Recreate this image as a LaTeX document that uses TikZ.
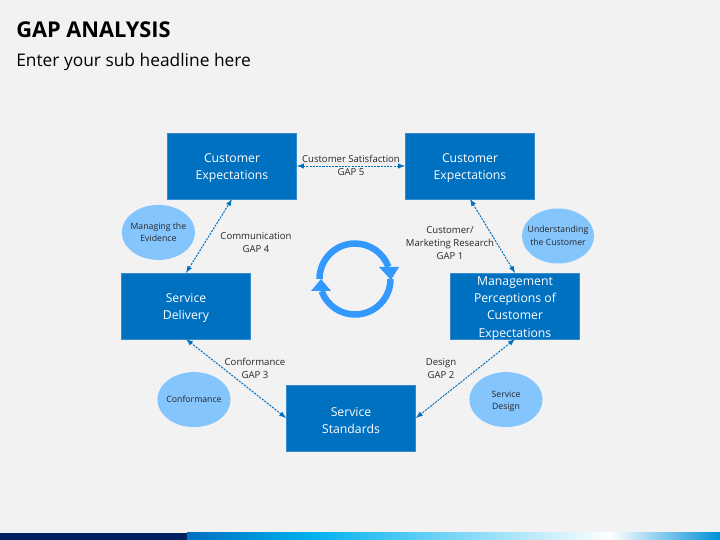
\documentclass[tikz,border=0pt]{standalone}
\usepackage{fontspec}
\setmainfont{Open Sans}
\usetikzlibrary{shapes.geometric}
\usetikzlibrary{arrows}
\definecolor{pagebg}{HTML}{F2F2F2}
\definecolor{boxblue}{HTML}{0070C0}
\definecolor{bubble}{HTML}{85C5FD}
\definecolor{cyclecol}{HTML}{3399FF}
\definecolor{navy}{HTML}{002060}
\definecolor{sky}{HTML}{00B0F0}
\definecolor{bandend}{HTML}{0090D8}
\definecolor{inkgrey}{HTML}{262626}
\newcommand{\pushdown}{\rule{0pt}{9.9pt}}

\begin{document}
\begin{tikzpicture}
	[main/.style = {draw=boxblue!80!white, fill=boxblue, text=white, minimum width=3.23cm, minimum height=1.64cm, inner xsep=0pt, inner ysep=-3pt, align=center, font=\fontsize{8.7}{12.1}\selectfont},
	bubblenode/.style = {ellipse, fill=bubble, inner ysep=0pt, inner xsep=-6pt, minimum width=1.83cm, minimum height=1.375cm, align=center, text=inkgrey, font=\fontsize{6.2}{9}\selectfont},
	gaplabel/.style = {align=center, inner sep=0pt, text=inkgrey, font=\fontsize{6.8}{9.3}\selectfont},
	gapline/.style = {<->, >=latex, dash pattern=on 1.5pt off 0.8pt, line width=0.7pt, draw=boxblue}]
	\useasboundingbox (0,0) rectangle (18,13.5);
	\fill[pagebg] (0,0) rectangle (18,13.5);
	% bottom band
	\fill[navy] (0,0) rectangle (4.675,0.175);
	\fill[left color=boxblue, right color=sky] (4.675,0) rectangle (7.75,0.175);
	\fill[left color=sky, right color=white] (7.75,0) rectangle (15.25,0.175);
	\fill[left color=white, right color=bandend] (15.25,0) rectangle (18,0.175);
	% headline
	\node[anchor=west, inner sep=0pt, text=black, font=\fontsize{15.5}{18}\bfseries\selectfont] (title) at (0.4,12.75) {GAP ANALYSIS};
	\node[anchor=west, inner sep=0pt, text=black, font=\fontsize{12.35}{15}\selectfont] (subtitle) at (0.4,11.96) {Enter your sub headline here};
	% boxes
	\node[main] (custl) at (5.8,9.35) {\pushdown Customer\\Expectations};
	\node[main] (custr) [right of = custl, node distance=5.95cm] {\pushdown Customer\\Expectations};
	\node[main] (delivery) [below of = custl, node distance=3.5cm, xshift=-1.15cm] {\pushdown Service\\Delivery};
	\node[main] (mgmt) [below of = custr, node distance=3.5cm, xshift=1.125cm] {\pushdown Management\\Perceptions of\\Customer\\Expectations};
	\node[main] (standards) [below of = delivery, node distance=2.8cm, xshift=4.125cm] {\pushdown Service\\Standards};
	% connectors
	\draw[gapline] (custl) -- (custr);
	\draw[gapline] (custr.south) -- (mgmt.north);
	\draw[gapline] (mgmt.south) -- (standards.east);
	\draw[gapline] (standards.west) -- (delivery.south);
	\draw[gapline] (delivery.north) -- (custl.south);
	% labels
	\node[gaplabel] (gap5) at (8.775,9.36) {Customer Satisfaction\\GAP 5};
	\node[gaplabel] (gap4) at (6.4,7.43) {Communication\\GAP 4};
	\node[gaplabel] (gap1) at (11.25,7.43) {Customer/\\Marketing Research\\GAP 1};
	\node[gaplabel] (gap3) at (6.375,4.28) {Conformance\\GAP 3};
	\node[gaplabel] (gap2) at (11.025,4.28) {Design\\GAP 2};
	% bubbles
	\node[bubblenode] (evidence) at (3.96,7.69) {Managing the\\Evidence};
	\node[bubblenode, minimum width=1.8cm] (understanding) at (13.95,7.6) {Understanding\\the Customer};
	\node[bubblenode] (conformance) at (4.85,3.51) {Conformance};
	\node[bubblenode] (design) at (12.65,3.51) {\rule{0pt}{7pt}Service\\Design};
	% cycle in the middle
	\coordinate (cyc) at (8.875,6.525);
	\draw[cyclecol, line width=0.1625cm] (cyc) ++(180:0.8875) arc[start angle=180, end angle=20, radius=0.8875];
	\draw[cyclecol, line width=0.1625cm] (cyc) ++(0:0.8875) arc[start angle=0, end angle=-160, radius=0.8875];
	\fill[cyclecol] (cyc) ++(0.9,-0.025) -- ++(-0.3,0.325) -- ++(0.5,0) -- cycle;
	\fill[cyclecol] (cyc) ++(-0.85,0) -- ++(0.25,-0.3) -- ++(-0.5,0) -- cycle;
\end{tikzpicture}
\end{document}
